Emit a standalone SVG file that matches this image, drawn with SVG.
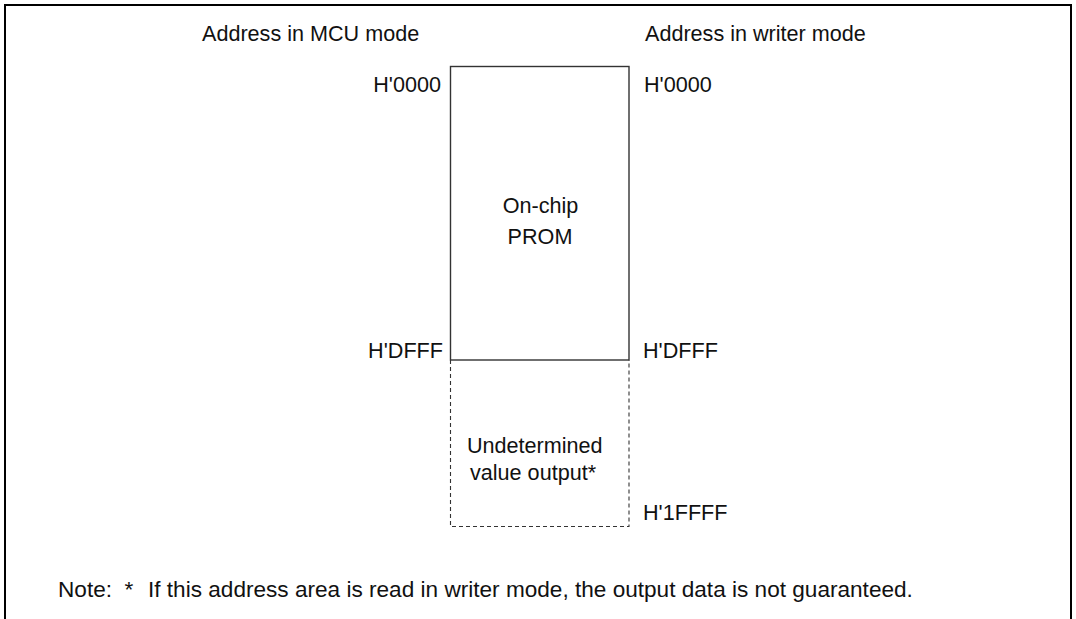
<svg xmlns="http://www.w3.org/2000/svg" width="1076" height="619" viewBox="0 0 1076 619">
<style>
text{font-family:"Liberation Sans",Arial,sans-serif;font-size:21.6px;fill:#111}
.m{text-anchor:middle}.e{text-anchor:end}
#note text{font-size:22.6px}
</style>
<rect width="1076" height="619" fill="#fff"/>
<g id="frame"><path d="M5,619 V5 H1071 V619" fill="none" stroke="#000" stroke-width="2"/></g>
<g id="headers">
<text x="202" y="40.5">Address in MCU mode</text>
<text x="645" y="40.5">Address in writer mode</text>
</g>
<g id="prom">
<rect x="450.5" y="66.5" width="178.5" height="293.5" fill="none" stroke="#333" stroke-width="1.4"/>
<text x="540.5" y="212.5" class="m">On-chip</text>
<text x="540" y="243.5" class="m">PROM</text>
</g>
<g id="undetermined">
<path d="M450.5,360 V526.5 H629 V360" fill="none" stroke="#333" stroke-width="1.1" stroke-dasharray="4,3"/>
<text x="534.7" y="452.5" class="m">Undetermined</text>
<text x="470" y="480">value output*</text>
</g>
<g id="addresses">
<text x="441" y="92" class="e">H'0000</text>
<text x="644" y="92">H'0000</text>
<text x="443" y="358.3" class="e">H'DFFF</text>
<text x="643" y="358.3">H'DFFF</text>
<text x="643" y="520">H'1FFFF</text>
</g>
<g id="connectors"></g>
<g id="note">
<text x="58" y="596.5">Note:</text>
<text x="124.5" y="596.5">*</text>
<text x="148" y="596.5">If this address area is read in writer mode, the output data is not guaranteed.</text>
</g>
</svg>
